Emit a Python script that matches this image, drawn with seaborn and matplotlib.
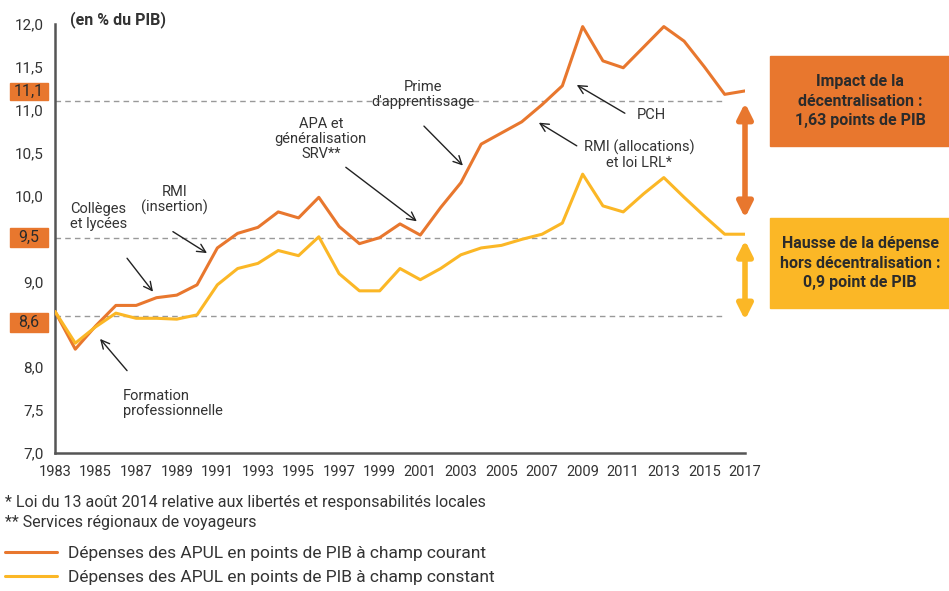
import matplotlib
matplotlib.use("Agg")
import matplotlib.pyplot as plt
from matplotlib.patches import Rectangle
import pandas as pd
import seaborn as sns

# data
years = list(range(1983, 2018))
courant = [8.65, 8.21, 8.48, 8.72, 8.72, 8.81, 8.84, 8.96, 9.39, 9.56,
           9.63, 9.81, 9.74, 9.98, 9.64, 9.44, 9.51, 9.67, 9.54, 9.86,
           10.15, 10.60, 10.73, 10.86, 11.06, 11.28, 11.97, 11.57, 11.49, 11.73,
           11.97, 11.80, 11.50, 11.18, 11.22]
constant = [8.65, 8.28, 8.47, 8.63, 8.57, 8.57, 8.56, 8.61, 8.96, 9.15,
            9.21, 9.36, 9.30, 9.52, 9.09, 8.89, 8.89, 9.15, 9.02, 9.15,
            9.31, 9.39, 9.42, 9.49, 9.55, 9.68, 10.25, 9.88, 9.81, 10.02,
            10.21, 9.98, 9.76, 9.55, 9.55]
series_names = ["Dépenses des APUL en points de PIB à champ courant",
                "Dépenses des APUL en points de PIB à champ constant"]
ref_levels = [11.1, 9.5, 8.6]
ref_labels = ["11,1", "9,5", "8,6"]
y_ticks = [7.0, 7.5, 8.0, 9.0, 10.0, 10.5, 11.0, 11.5, 12.0]
x_ticks = list(range(1983, 2018, 2))

ORANGE = "#E8772E"
YELLOW = "#FBB726"
TXT = "#333333"

df = pd.DataFrame({
    "annee": years * 2,
    "valeur": courant + constant,
    "serie": [series_names[0]] * len(years) + [series_names[1]] * len(years),
})

sns.set_style("white")
plt.rcParams["font.family"] = ["Roboto", "DejaVu Sans"]

fig = plt.figure(figsize=(9.49, 5.91), dpi=100)
ax = fig.add_axes([55 / 949, 1 - 453 / 591, 690 / 949, 429 / 591])

sns.lineplot(data=df, x="annee", y="valeur", hue="serie", hue_order=series_names,
             palette=[ORANGE, YELLOW], linewidth=2.2, ax=ax, zorder=3)

for lvl in ref_levels:
    ax.plot([1983, 2016], [lvl, lvl], ls=(0, (4, 3)), color="#999999", lw=1, zorder=1)

ax.set_xlim(1983, 2017)
ax.set_ylim(7.0, 12.0)
ax.set_xticks(x_ticks)
ax.set_xticklabels([str(y) for y in x_ticks], fontsize=10.5, color=TXT)
ax.set_yticks(y_ticks)
ax.set_yticklabels([f"{v:.1f}".replace(".", ",") for v in y_ticks], fontsize=11, color=TXT)
ax.tick_params(axis="y", length=0, pad=8)
ax.tick_params(axis="x", length=0, pad=9)
ax.set_xlabel("")
ax.set_ylabel("")
for s in ["top", "right"]:
    ax.spines[s].set_visible(False)
for s in ["left", "bottom"]:
    ax.spines[s].set_color("#555555")
    ax.spines[s].set_linewidth(1.8)

# orange boxed labels on the y axis
box_rows = [(83, 100), (228, 247), (313, 332)]
for (y0, y1), lab in zip(box_rows, ref_labels):
    fig.patches.append(Rectangle((10 / 949, 1 - y1 / 591), 38 / 949, (y1 - y0) / 591,
                                 transform=fig.transFigure, color=ORANGE, zorder=0))
    fig.text(29 / 949, 1 - (y0 + y1) / 2 / 591, lab, ha="center", va="center",
             fontsize=11.5, color="#2b2b2b")

ax.text(1983.74, 12.05, "(en % du PIB)", fontsize=11.5, fontweight="bold", color=TXT,
        ha="left", va="center", clip_on=False)

notes = [
    ("Collèges\net lycées", (1983.74, 9.76), "left", (1986.55, 9.27), (1987.83, 8.88)),
    ("RMI\n(insertion)", (1988.9, 9.95), "center", (1988.81, 9.58), (1990.49, 9.33)),
    ("Formation\nprofessionnelle", (1986.35, 7.58), "left", (1986.55, 7.96), (1985.22, 8.33)),
    ("APA et\ngénéralisation\nSRV**", (1996.1, 10.66), "center", (1997.33, 10.33), (2000.83, 9.70)),
    ("Prime\nd'apprentissage", (2001.13, 11.18), "center", (2001.18, 10.81), (2003.1, 10.35)),
    ("PCH", (2012.4, 10.94), "center", (2011.08, 10.96), (2008.71, 11.29)),
    ("RMI (allocations)\net loi LRL*", (2011.77, 10.47), "center", (2008.71, 10.58), (2006.84, 10.85)),
]
for txt, pos, ha, a0, a1 in notes:
    ax.text(pos[0], pos[1], txt, ha=ha, va="center", fontsize=10.5, color=TXT,
            linespacing=1.1)
    ax.annotate("", xy=a1, xytext=a0,
                arrowprops=dict(arrowstyle="->,head_length=0.6,head_width=0.3",
                                color="#222222", lw=1, shrinkA=0, shrinkB=0))

# double arrows at the right edge
ax.annotate("", xy=(2017, 9.74), xytext=(2017, 11.08), annotation_clip=False,
            arrowprops=dict(arrowstyle="<|-|>,head_length=0.9,head_width=0.45",
                            color=ORANGE, lw=4, shrinkA=0, shrinkB=0))
ax.annotate("", xy=(2017, 8.55), xytext=(2017, 9.48), annotation_clip=False,
            arrowprops=dict(arrowstyle="<|-|>,head_length=0.9,head_width=0.45",
                            color=YELLOW, lw=4, shrinkA=0, shrinkB=0))

# boxes on the right
fig.patches.append(Rectangle((770 / 949, 1 - 146 / 591), 179 / 949, 90 / 591,
                             transform=fig.transFigure, color=ORANGE))
fig.text(860 / 949, 1 - 101 / 591, "Impact de la\ndécentralisation :\n1,63 points de PIB",
         ha="center", va="center", fontsize=11.5, fontweight="bold", color="#2b2b2b",
         linespacing=1.35)
fig.patches.append(Rectangle((770 / 949, 1 - 308 / 591), 179 / 949, 90 / 591,
                             transform=fig.transFigure, color=YELLOW))
fig.text(860 / 949, 1 - 263 / 591, "Hausse de la dépense\nhors décentralisation :\n0,9 point de PIB",
         ha="center", va="center", fontsize=11.5, fontweight="bold", color="#2b2b2b",
         linespacing=1.35)

# footnotes
fig.text(5 / 949, 1 - 503 / 591, "* Loi du 13 août 2014 relative aux libertés et responsabilités locales",
         ha="left", va="center", fontsize=11.5, color=TXT)
fig.text(5 / 949, 1 - 523 / 591, "** Services régionaux de voyageurs",
         ha="left", va="center", fontsize=11.5, color=TXT)

# legend
handles, labels = ax.get_legend_handles_labels()
ax.legend(handles, labels, loc="upper left", bbox_to_anchor=(5 / 949, 1 - 546 / 591),
          bbox_transform=fig.transFigure, frameon=False, fontsize=12.5,
          handlelength=3.0, handletextpad=0.6, labelspacing=0.5,
          borderaxespad=0, borderpad=0, labelcolor=TXT)

fig.savefig("out.png", dpi=100)
